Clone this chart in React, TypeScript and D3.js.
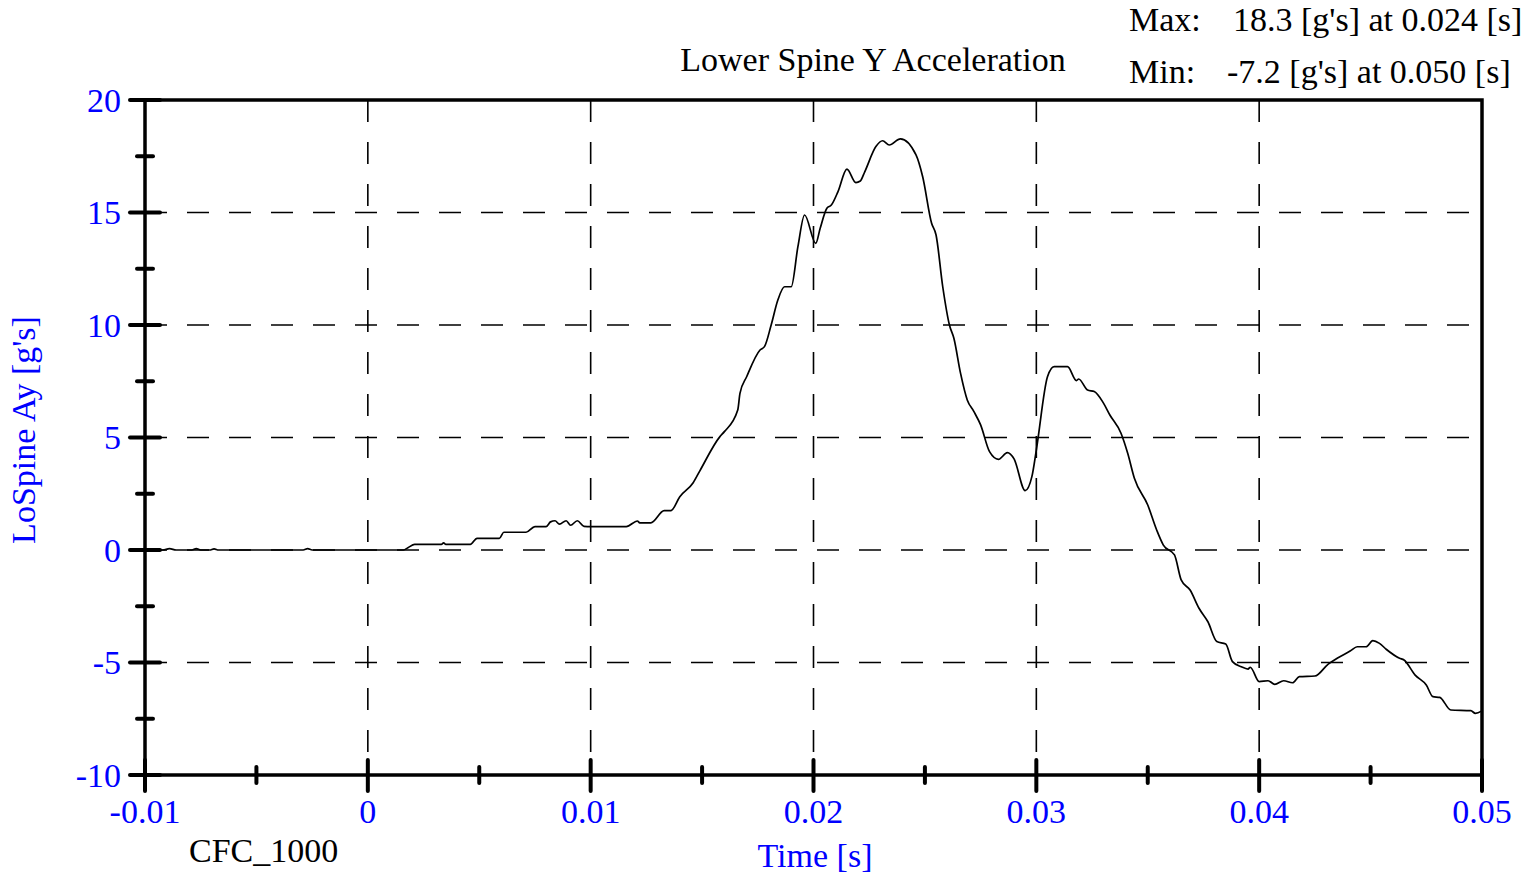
import React, { useEffect, useRef } from 'react';
import * as d3 from 'd3';

// time [s] and lower spine Y acceleration [g's]
const timeS = [
  -0.01, -0.0092, -0.0089, -0.0086, -0.0079, -0.0077, -0.0075, -0.0071, -0.0069, -0.0067,
  -0.0029, -0.0027, -0.0025, 0.0016, 0.0018, 0.0021, 0.0033, 0.0034, 0.0035, 0.0046,
  0.0049, 0.0059, 0.0061, 0.0071, 0.0075, 0.0080, 0.0082, 0.0084, 0.0086, 0.0089,
  0.0091, 0.0094, 0.0097, 0.0100, 0.0116, 0.0121, 0.0122, 0.0127, 0.0133, 0.0136,
  0.0140, 0.0146, 0.0149, 0.0158, 0.0160, 0.0166, 0.0167, 0.0170, 0.0176, 0.0178,
  0.0181, 0.0184, 0.0187, 0.0190, 0.0193, 0.0196, 0.0201, 0.0203, 0.0206, 0.0208,
  0.0211, 0.0215, 0.0219, 0.0221, 0.0223, 0.0228, 0.0231, 0.0234, 0.0239, 0.0246,
  0.0249, 0.0253, 0.0255, 0.0258, 0.0261, 0.0263, 0.0266, 0.0269, 0.0272, 0.0275,
  0.0279, 0.0283, 0.0287, 0.0290, 0.0295, 0.0298, 0.0300, 0.0305, 0.0308, 0.0314,
  0.0318, 0.0319, 0.0323, 0.0326, 0.0330, 0.0333, 0.0338, 0.0341, 0.0344, 0.0350,
  0.0354, 0.0357, 0.0362, 0.0365, 0.0369, 0.0373, 0.0377, 0.0381, 0.0385, 0.0388,
  0.0392, 0.0395, 0.0396, 0.0400, 0.0404, 0.0407, 0.0411, 0.0415, 0.0418, 0.0425,
  0.0431, 0.0435, 0.0441, 0.0444, 0.0448, 0.0451, 0.0454, 0.0457, 0.0463, 0.0465,
  0.0470, 0.0475, 0.0478, 0.0481, 0.0486, 0.0495, 0.0497, 0.05,
];
const accelG = [
  0, 0, 0.06, 0, 0, 0.06, 0, 0, 0.05, 0,
  0, 0.06, 0, 0, 0.1, 0.25, 0.25, 0.32, 0.25, 0.25,
  0.52, 0.52, 0.79, 0.79, 1.04, 1.04, 1.25, 1.3, 1.15, 1.3,
  1.1, 1.3, 1.05, 1.04, 1.04, 1.29, 1.21, 1.21, 1.75, 1.75,
  2.37, 2.99, 3.52, 5.04, 5.26, 6.22, 6.96, 7.7, 8.89, 9.04,
  10.0, 11.11, 11.7, 11.7, 13.48, 14.89, 13.63, 14.3, 15.19, 15.33,
  15.93, 16.93, 16.33, 16.4, 16.81, 17.93, 18.19, 18.0, 18.27, 17.56,
  16.59, 14.52, 14.0, 11.7, 10.0, 9.41, 7.85, 6.67, 6.15, 5.56,
  4.37, 4.03, 4.33, 4.05, 2.64, 3.26, 4.44, 7.7, 8.15, 8.15,
  7.53, 7.6, 7.11, 7.04, 6.55, 6.0, 5.19, 4.3, 3.19, 2.0,
  0.89, 0.22, -0.22, -1.33, -1.78, -2.59, -3.19, -4.07, -4.18, -4.96,
  -5.19, -5.29, -5.21, -5.85, -5.81, -5.97, -5.81, -5.9, -5.63, -5.6,
  -5.07, -4.81, -4.48, -4.3, -4.3, -4.03, -4.15, -4.41, -4.81, -4.89,
  -5.56, -6.0, -6.52, -6.55, -7.11, -7.14, -7.26, -7.15,
];

const xTickValues = [-0.01, 0, 0.01, 0.02, 0.03, 0.04, 0.05];
const xTickLabels = ['-0.01', '0', '0.01', '0.02', '0.03', '0.04', '0.05'];
const yTickValues = [-10, -5, 0, 5, 10, 15, 20];
const xMinorTicks = [-0.005, 0.005, 0.015, 0.025, 0.035, 0.045];
const yMinorTicks = [-7.5, -2.5, 2.5, 7.5, 12.5, 17.5];

const title = 'Lower Spine Y Acceleration';
const maxLabel = ['Max:', "18.3 [g's] at 0.024 [s]"];
const minLabel = ['Min:', "-7.2 [g's] at 0.050 [s]"];

const App: React.FC = () => {
  const svgRef = useRef<SVGSVGElement | null>(null);

  useEffect(() => {
    if (!svgRef.current) return;
    const width = 1537;
    const height = 877;
    const margin = { top: 100, right: 55, bottom: 102, left: 145 };
    const font = '"Liberation Serif", "Times New Roman", serif';
    const fs = 34;
    const blue = '#0000ff';

    const svg = d3.select(svgRef.current).html('');
    const cw = width - margin.left - margin.right;
    const ch = height - margin.top - margin.bottom;

    const x = d3.scaleLinear().domain([-0.01, 0.05]).range([margin.left, margin.left + cw]);
    const y = d3.scaleLinear().domain([-10, 20]).range([margin.top + ch, margin.top]);

    // dashed grid
    svg.append('g')
      .selectAll('line')
      .data(yTickValues.filter(v => v > -10 && v < 20))
      .enter()
      .append('line')
      .attr('x1', x(-0.01)).attr('x2', x(0.05))
      .attr('y1', d => y(d)).attr('y2', d => y(d))
      .attr('stroke', '#000').attr('stroke-width', 1.6)
      .attr('stroke-dasharray', '22,20');
    svg.append('g')
      .selectAll('line')
      .data(xTickValues.filter(v => v > -0.01 && v < 0.05))
      .enter()
      .append('line')
      .attr('x1', d => x(d)).attr('x2', d => x(d))
      .attr('y1', y(20)).attr('y2', y(-10))
      .attr('stroke', '#000').attr('stroke-width', 1.6)
      .attr('stroke-dasharray', '22,20');

    // trace
    const pts: [number, number][] = timeS.map((t, i) => [t, accelG[i]]);
    const line = d3.line<[number, number]>()
      .x(d => x(d[0]))
      .y(d => y(d[1]))
      .curve(d3.curveMonotoneX);
    svg.append('path')
      .datum(pts)
      .attr('fill', 'none')
      .attr('stroke', '#000')
      .attr('stroke-width', 1.7)
      .attr('stroke-linejoin', 'round')
      .attr('d', line);

    // frame
    svg.append('rect')
      .attr('x', x(-0.01)).attr('y', y(20))
      .attr('width', cw).attr('height', ch)
      .attr('fill', 'none').attr('stroke', '#000').attr('stroke-width', 3.5);

    // ticks
    const tickG = svg.append('g').attr('stroke', '#000').attr('stroke-width', 4).attr('stroke-linecap', 'round');
    yTickValues.forEach(v => {
      tickG.append('line').attr('x1', x(-0.01) - 15).attr('x2', x(-0.01) + 15).attr('y1', y(v)).attr('y2', y(v));
    });
    yMinorTicks.forEach(v => {
      tickG.append('line').attr('x1', x(-0.01) - 8).attr('x2', x(-0.01) + 8).attr('y1', y(v)).attr('y2', y(v));
    });
    xTickValues.forEach(v => {
      tickG.append('line').attr('x1', x(v)).attr('x2', x(v)).attr('y1', y(-10) - 15).attr('y2', y(-10) + 16);
    });
    xMinorTicks.forEach(v => {
      tickG.append('line').attr('x1', x(v)).attr('x2', x(v)).attr('y1', y(-10) - 8).attr('y2', y(-10) + 8);
    });

    // tick labels
    svg.append('g')
      .selectAll('text')
      .data(yTickValues)
      .enter()
      .append('text')
      .attr('x', x(-0.01) - 24)
      .attr('y', d => y(d))
      .attr('dy', '0.34em')
      .attr('text-anchor', 'end')
      .attr('font-family', font).attr('font-size', fs).attr('fill', blue)
      .text(d => String(d));
    svg.append('g')
      .selectAll('text')
      .data(xTickValues)
      .enter()
      .append('text')
      .attr('x', d => x(d))
      .attr('y', 823)
      .attr('text-anchor', 'middle')
      .attr('font-family', font).attr('font-size', fs).attr('fill', blue)
      .text((d, i) => xTickLabels[i]);

    // axis titles
    svg.append('text')
      .attr('transform', `translate(35, ${430}) rotate(-90)`)
      .attr('text-anchor', 'middle')
      .attr('font-family', font).attr('font-size', fs).attr('fill', blue)
      .text("LoSpine Ay [g's]");
    svg.append('text')
      .attr('x', 815).attr('y', 867)
      .attr('text-anchor', 'middle')
      .attr('font-family', font).attr('font-size', fs).attr('fill', blue)
      .text('Time [s]');
    svg.append('text')
      .attr('x', 189).attr('y', 862)
      .attr('font-family', font).attr('font-size', fs).attr('fill', '#000')
      .text('CFC_1000');

    // title and extremes
    svg.append('text')
      .attr('x', 873).attr('y', 71)
      .attr('text-anchor', 'middle')
      .attr('font-family', font).attr('font-size', fs).attr('fill', '#000')
      .text(title);
    const info = svg.append('g').attr('font-family', font).attr('font-size', fs).attr('fill', '#000');
    info.append('text').attr('x', 1129).attr('y', 31).text(maxLabel[0]);
    info.append('text').attr('x', 1233).attr('y', 31).text(maxLabel[1]);
    info.append('text').attr('x', 1129).attr('y', 83).text(minLabel[0]);
    info.append('text').attr('x', 1227).attr('y', 83).text(minLabel[1]);
  }, []);

  return (
    <div style={{ position: 'absolute', left: 0, top: 0, background: '#fff' }}>
      <svg ref={svgRef} width={1537} height={877} style={{ display: 'block' }}></svg>
    </div>
  );
};

export default App;
